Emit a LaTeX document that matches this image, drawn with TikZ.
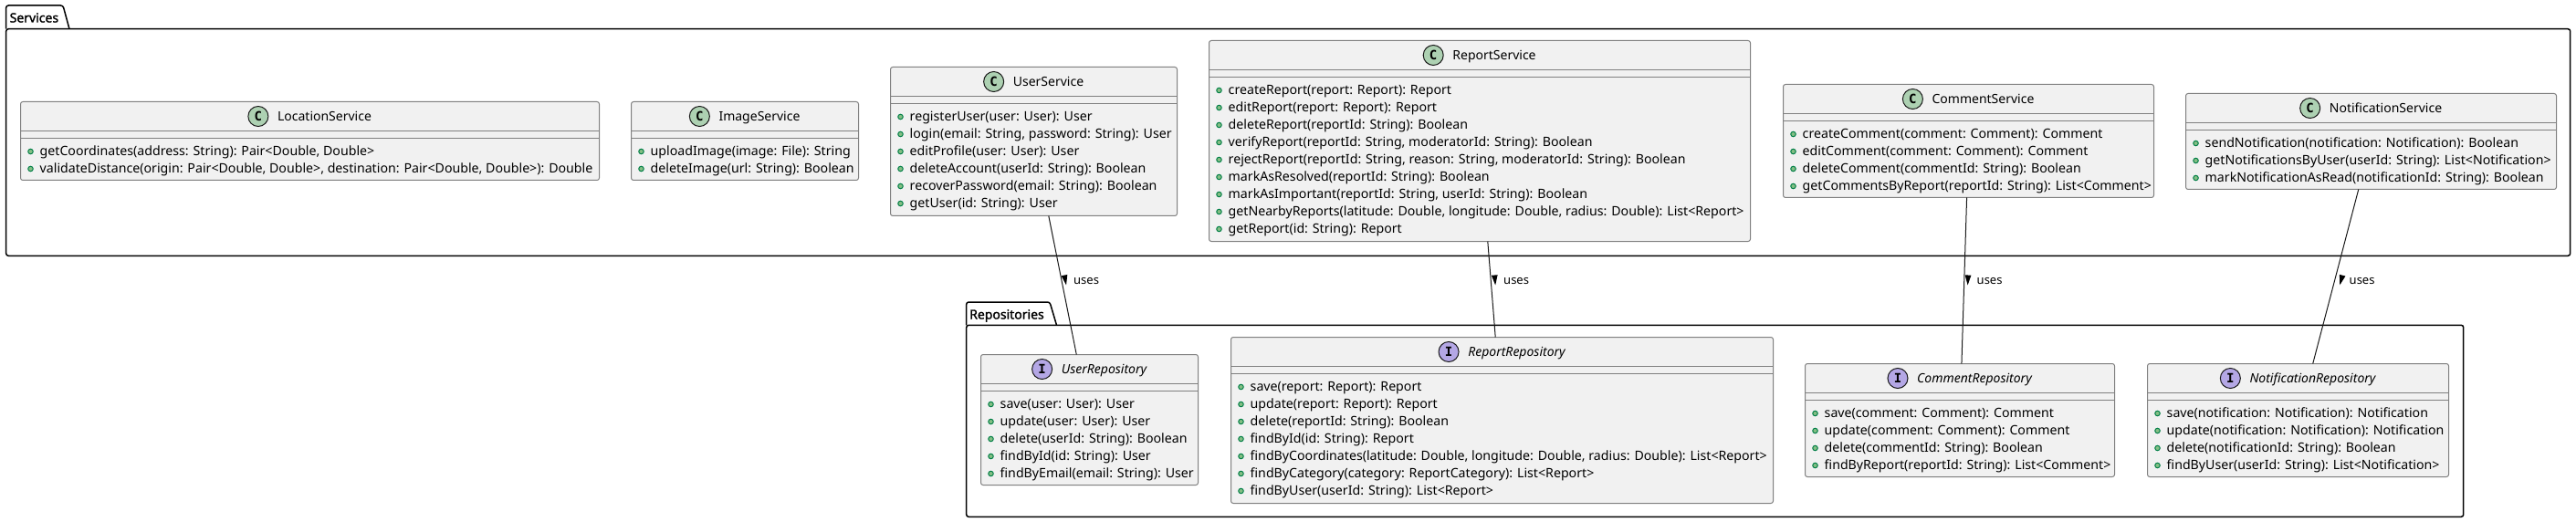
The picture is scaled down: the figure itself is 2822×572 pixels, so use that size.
\documentclass[tikz,border=0pt]{standalone}
\usepackage{fontspec}
\setmainfont{Noto Sans}
\newfontfamily\spotfont{DejaVu Sans Mono}[BoldFont={DejaVu Sans Mono Bold}]
\newfontfamily\pkgfont{Noto Sans}[FakeBold=1.6]
\usepackage{tikz}
\usetikzlibrary{calc}

\definecolor{boxfill}{HTML}{F1F1F1}
\definecolor{boxline}{HTML}{808080}
\definecolor{linkline}{HTML}{181818}
\definecolor{classspot}{HTML}{ADD1B2}
\definecolor{ifacespot}{HTML}{B4A7E5}
\definecolor{bulletfill}{HTML}{84BE84}
\definecolor{bulletline}{HTML}{038048}

% one class box: name, x1, y1, x2, y2, C or I, title, members
\newcommand{\umlclass}[8]{
  \node[classbox, minimum width={(#4-#2)*1pt}, minimum height={(#5-#3)*1pt}] (#1) at ({(#2+#4)/2},{(#3+#5)/2}) {};
  \draw[classline] ([yshift=-32pt]#1.north west) -- ([yshift=-32pt]#1.north east);
  \draw[classline] ([yshift=-40pt]#1.north west) -- ([yshift=-40pt]#1.north east);
  \node[title#6, anchor=base] (#1title) at ([xshift=16pt,yshift=-21pt]#1.north) {#7};
  \node[spot#6] (#1spot) at ([xshift=-21pt,yshift=-16pt]#1title.west |- #1.north) {#6};
  \foreach \txt [count=\i] in {#8} {
    \node[bullet] (#1dot\i) at ([xshift=11pt,yshift={-35.5pt-19pt*\i}]#1.north west) {};
    \node[member] (#1m\i) at ([xshift=21pt,yshift={-40pt-19pt*\i}]#1.north west) {\txt};
  }
}

\begin{document}
\begin{tikzpicture}[
  x=1pt, y=-1pt,
  font=\fontsize{14}{17}\selectfont,
  classbox/.style={draw=boxline, fill=boxfill, line width=1pt, rounded corners=2.5pt, inner sep=0pt, outer sep=0pt},
  classline/.style={draw=boxline, line width=1pt},
  titleC/.style={inner sep=0pt},
  titleI/.style={inner sep=0pt, font=\fontsize{14}{17}\selectfont\itshape},
  spotC/.style={circle, draw=linkline, line width=1pt, fill=classspot, minimum size=22pt, inner sep=0pt, font=\spotfont\bfseries\fontsize{14}{17}\selectfont},
  spotI/.style={spotC, fill=ifacespot},
  bullet/.style={circle, draw=bulletline, fill=bulletfill, line width=1pt, minimum size=5.5pt, inner sep=0pt},
  member/.style={anchor=base west, inner sep=0pt, font=\fontsize{14.17}{17}\selectfont},
  pkgframe/.style={draw=black, line width=1.5pt, rounded corners=2.5pt, inner sep=0pt, outer sep=0pt},
  pkgtab/.style={draw=black, line width=1.5pt, rounded corners=2.5pt},
  pkgtitle/.style={anchor=base west, inner sep=0pt, font=\pkgfont\fontsize{14}{17}\selectfont},
  link/.style={draw=linkline, line width=1pt},
  uses/.style={anchor=base west, inner sep=0pt, font=\fontsize{13}{16}\selectfont},
  usestip/.style={fill=black}
]
  \useasboundingbox (0,0) rectangle (2822,572);

  % packages
  \node[pkgframe, minimum width=2809pt, minimum height=248.5pt] (services) at (1411.2,156) {};
  \coordinate (servicesa) at (6.7,31.7);
  \coordinate (servicesb) at (6.7,6);
  \coordinate (servicesc) at (69,6);
  \coordinate (servicesd) at (76,31.7);
  \draw[pkgtab] (servicesa) -- (servicesb) -- (servicesc) -- (servicesd);
  \node[pkgtitle] (servicestitle) at (10.5,24.5) {Services};

  \node[pkgframe, minimum width=1640pt, minimum height=210pt] (repos) at (1878.7,461.3) {};
  \coordinate (reposa) at (1058.7,356.3);
  \coordinate (reposb) at (1058.7,331);
  \coordinate (reposc) at (1150,331);
  \coordinate (reposd) at (1157.5,356.3);
  \draw[pkgtab] (reposa) -- (reposb) -- (reposc) -- (reposd);
  \node[pkgtitle] (repostitle) at (1062,349.5) {Repositories};

  % services
  \umlclass{location}{22.5}{111.5}{656.5}{197.5}{C}{LocationService}{
    {getCoordinates(address: String): Pair<Double, Double>},
    {validateDistance(origin: Pair<Double, Double>, destination: Pair<Double, Double>): Double}}
  \umlclass{image}{691.5}{111.5}{940.5}{197.5}{C}{ImageService}{
    {uploadImage(image: File): String},
    {deleteImage(url: String): Boolean}}
  \umlclass{user}{975.5}{73.5}{1289.5}{236.5}{C}{UserService}{
    {registerUser(user: User): User},
    {login(email: String, password: String): User},
    {editProfile(user: User): User},
    {deleteAccount(userId: String): Boolean},
    {recoverPassword(email: String): Boolean},
    {getUser(id: String): User}}
  \umlclass{report}{1324.5}{44.5}{1917.5}{264.5}{C}{ReportService}{
    {createReport(report: Report): Report},
    {editReport(report: Report): Report},
    {deleteReport(reportId: String): Boolean},
    {verifyReport(reportId: String, moderatorId: String): Boolean},
    {rejectReport(reportId: String, reason: String, moderatorId: String): Boolean},
    {markAsResolved(reportId: String): Boolean},
    {markAsImportant(reportId: String, userId: String): Boolean},
    {getNearbyReports(latitude: Double, longitude: Double, radius: Double): List<Report>},
    {getReport(id: String): Report}}
  \umlclass{comment}{1953.5}{92.5}{2359.5}{216.5}{C}{CommentService}{
    {createComment(comment: Comment): Comment},
    {editComment(comment: Comment): Comment},
    {deleteComment(commentId: String): Boolean},
    {getCommentsByReport(reportId: String): List<Comment>}}
  \umlclass{notif}{2394.5}{102.5}{2800.5}{207.5}{C}{NotificationService}{
    {sendNotification(notification: Notification): Boolean},
    {getNotificationsByUser(userId: String): List<Notification>},
    {markNotificationAsRead(notificationId: String): Boolean}}

  % repositories
  \umlclass{userrepo}{1074.5}{388.5}{1312.5}{531.5}{I}{UserRepository}{
    {save(user: User): User},
    {update(user: User): User},
    {delete(userId: String): Boolean},
    {findById(id: String): User},
    {findByEmail(email: String): User}}
  \umlclass{reportrepo}{1348.5}{369.5}{1942.5}{551.5}{I}{ReportRepository}{
    {save(report: Report): Report},
    {update(report: Report): Report},
    {delete(reportId: String): Boolean},
    {findById(id: String): Report},
    {findByCoordinates(latitude: Double, longitude: Double, radius: Double): List<Report>},
    {findByCategory(category: ReportCategory): List<Report>},
    {findByUser(userId: String): List<Report>}}
  \umlclass{commentrepo}{1977.5}{398.5}{2316.5}{522.5}{I}{CommentRepository}{
    {save(comment: Comment): Comment},
    {update(comment: Comment): Comment},
    {delete(commentId: String): Boolean},
    {findByReport(reportId: String): List<Comment>}}
  \umlclass{notifrepo}{2352.5}{398.5}{2682.5}{522.5}{I}{NotificationRepository}{
    {save(notification: Notification): Notification},
    {update(notification: Notification): Notification},
    {delete(notificationId: String): Boolean},
    {findByUser(userId: String): List<Notification>}}

  % links
  \draw[link] (user) -- (userrepo);
  \draw[link] (report) -- (reportrepo);
  \draw[link] (comment) -- (commentrepo);
  \draw[link] (notif) -- (notifrepo);

  \fill[usestip, shift={(1167,307)}, rotate=11] (-3.4,-5.5) -- (3.4,-5.5) -- (0,5.5) -- cycle;
  \node[uses] (uses1) at (1176,311.5) {uses};
  \fill[usestip, shift={(1637.7,307)}, rotate=5] (-3.4,-5.5) -- (3.4,-5.5) -- (0,5.5) -- cycle;
  \node[uses] (uses2) at (1647,311.5) {uses};
  \fill[usestip, shift={(2155.8,307)}, rotate=-2] (-3.4,-5.5) -- (3.4,-5.5) -- (0,5.5) -- cycle;
  \node[uses] (uses3) at (2165.5,311.5) {uses};
  \fill[usestip, shift={(2564.7,307)}, rotate=-15] (-3.4,-5.5) -- (3.4,-5.5) -- (0,5.5) -- cycle;
  \node[uses] (uses4) at (2573.5,311.5) {uses};
\end{tikzpicture}
\end{document}
